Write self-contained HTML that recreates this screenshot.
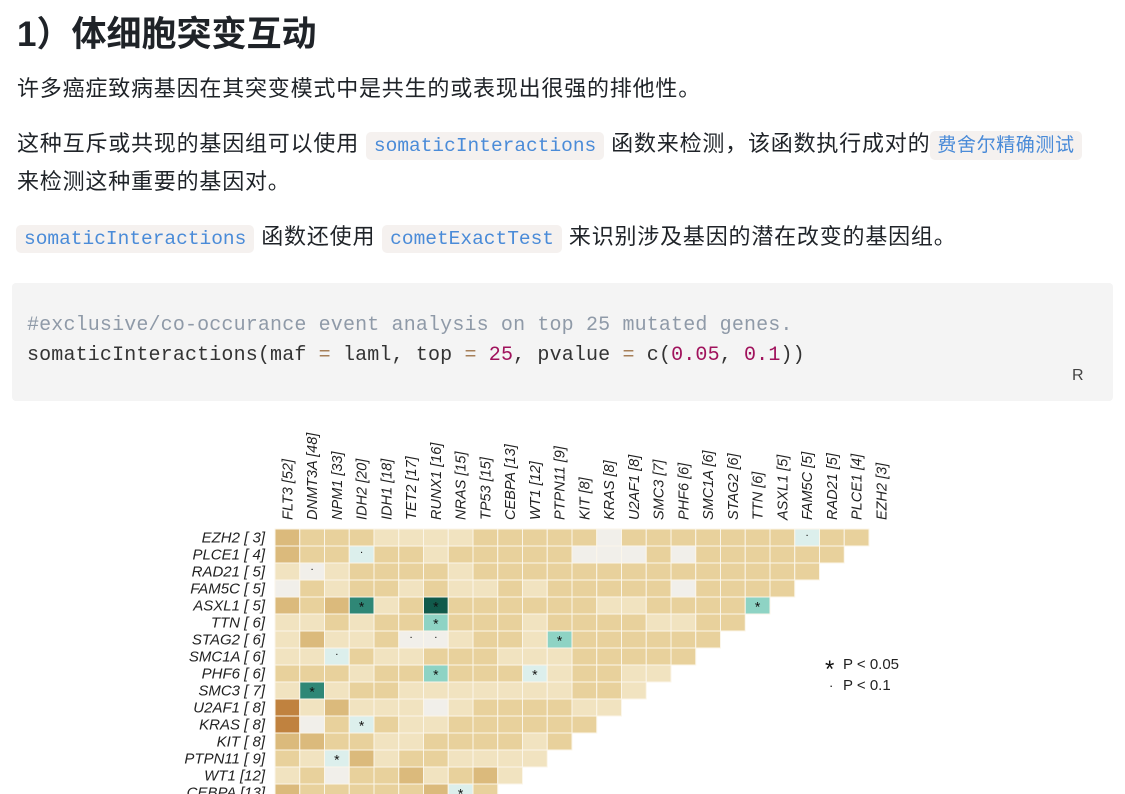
<!DOCTYPE html>
<html><head><meta charset="utf-8">
<style>
body{margin:0;width:1125px;height:794px;overflow:hidden;background:#fff;font-family:"Liberation Sans","Noto Sans CJK SC",sans-serif;color:#1f2328;position:relative}
.abs{position:absolute;white-space:nowrap}
h1{position:absolute;left:17px;top:6px;margin:0;font-size:35px;font-weight:bold;color:#1f2328}
.p{font-size:22px;letter-spacing:0.8px;color:#1f2328;line-height:30px}
code{font-family:"Liberation Mono",monospace;font-size:19.5px;letter-spacing:0;color:#4a8bd8;background:#f5f1ef;border-radius:5px;padding:3px 8px}
.lk{font-size:19px;letter-spacing:0.6px;color:#4a8bd8;background:#f5f1ef;border-radius:5px;padding:4px 7px}
#codeblk{position:absolute;left:12px;top:283px;width:1101px;height:118px;background:#f4f4f4;border-radius:4px}
.cl{font-family:"Liberation Mono",monospace;font-size:20px;letter-spacing:0.15px}
</style></head><body>
<h1>1）体细胞突变互动</h1>
<div class="abs p" style="left:17px;top:74px">许多癌症致病基因在其突变模式中是共生的或表现出很强的排他性。</div>
<div class="abs p" style="left:17px;top:129px">这种互斥或共现的基因组可以使用 <code>somaticInteractions</code> 函数来检测，该函数执行成对的<span class="lk">费舍尔精确测试</span></div>
<div class="abs p" style="left:17px;top:167px">来检测这种重要的基因对。</div>
<div class="abs p" style="left:17px;top:222px"><code style="margin-left:-1px">somaticInteractions</code> 函数还使用 <code>cometExactTest</code> 来识别涉及基因的潜在改变的基因组。</div>
<div id="codeblk">
<div class="abs cl" style="left:15px;top:31px;color:#8f9aa8">#exclusive/co-occurance event analysis on top 25 mutated genes.</div>
<div class="abs cl" style="left:15px;top:61px;color:#333">somaticInteractions(maf <span style="color:#a67f59">=</span> laml, top <span style="color:#a67f59">=</span> <span style="color:#a0125c">25</span>, pvalue <span style="color:#a67f59">=</span> c(<span style="color:#a0125c">0.05</span>, <span style="color:#a0125c">0.1</span>))</div>
<div class="abs" style="left:1060px;top:84px;font-size:16px;color:#444">R</div>
</div>
<svg id="chart" class="abs" style="left:0;top:0" width="1125" height="794"></svg>
<script>
const colGenes=["FLT3 [52]","DNMT3A [48]","NPM1 [33]","IDH2 [20]","IDH1 [18]","TET2 [17]","RUNX1 [16]","NRAS [15]","TP53 [15]","CEBPA [13]","WT1 [12]","PTPN11 [9]","KIT [8]","KRAS [8]","U2AF1 [8]","SMC3 [7]","PHF6 [6]","SMC1A [6]","STAG2 [6]","TTN [6]","ASXL1 [5]","FAM5C [5]","RAD21 [5]","PLCE1 [4]","EZH2 [3]"];
const rowGenes=["EZH2 [ 3]","PLCE1 [ 4]","RAD21 [ 5]","FAM5C [ 5]","ASXL1 [ 5]","TTN [ 6]","STAG2 [ 6]","SMC1A [ 6]","PHF6 [ 6]","SMC3 [ 7]","U2AF1 [ 8]","KRAS [ 8]","KIT [ 8]","PTPN11 [ 9]","WT1 [12]","CEBPA [13]"];
// levels: positive = exclusive (tan shades), negative = co-occurrence (teal shades)
const levels=[
[3,2,2,2,1,1,1,1,2,2,2,2,2,0,2,2,2,2,2,2,2,-1,2,2],
[3,2,2,-1,2,2,1,2,2,2,2,2,0,0,0,2,0,2,2,2,2,2,2],
[1,0,1,2,2,2,2,1,2,2,2,2,2,2,2,2,2,2,2,2,2,2],
[0,2,1,2,2,1,2,1,1,2,1,2,2,2,2,2,0,2,2,2,2],
[3,2,3,-3,1,2,-4,2,2,2,2,2,2,1,1,2,2,2,2,-2],
[1,1,2,1,2,2,-2,2,2,2,1,2,2,2,2,1,1,2,2],
[1,3,1,1,2,0,0,1,2,2,1,-2,2,2,2,2,2,2],
[1,1,-1,2,1,1,2,2,2,1,1,1,2,2,2,2,2],
[2,2,2,1,2,2,-2,2,2,2,-1,1,2,2,1,1],
[1,-3,1,2,2,1,1,1,1,1,1,1,2,2,1],
[4,1,3,1,1,1,0,1,2,2,2,2,1,1],
[4,0,2,-1,2,1,1,2,2,2,2,2,2],
[3,3,2,2,1,1,2,2,2,2,1,2],
[2,1,-1,3,1,2,2,1,1,1,1],
[1,2,0,2,2,3,1,2,3,1],
[3,2,2,2,2,2,3,-1,2]];
const marks=[
{r:0,c:21,m:"."},{r:1,c:3,m:"."},{r:2,c:1,m:"."},{r:4,c:3,m:"*"},{r:4,c:6,m:"*"},{r:4,c:19,m:"*"},
{r:5,c:6,m:"*"},{r:6,c:5,m:"."},{r:6,c:6,m:"."},{r:6,c:11,m:"*"},{r:7,c:2,m:"."},{r:8,c:6,m:"*"},
{r:8,c:10,m:"*"},{r:9,c:1,m:"*"},{r:11,c:3,m:"*"},{r:13,c:2,m:"*"},{r:15,c:7,m:"*"}];
const palette={"4":"#c0823f","3":"#dbba7c","2":"#e8d19c","1":"#f1e3c0","0":"#f1efea","-1":"#dcefec","-2":"#8ed3c4","-3":"#2f8776","-4":"#115a4b"};
const X0=275,Y0=529,CW=24.75,RH=17;
const xs=c=>X0+c*CW, ys=r=>Y0+r*RH;
const svg=document.getElementById('chart'),NS="http://www.w3.org/2000/svg";
function mk(t,a){const e=document.createElementNS(NS,t);for(const k in a)e.setAttribute(k,a[k]);svg.appendChild(e);return e;}
levels.forEach((row,r)=>row.forEach((v,c)=>{
 const e=mk('rect',{x:xs(c),y:ys(r),width:CW,height:RH,fill:palette[v],stroke:"#fbf6ea","stroke-width":1});
 
 
}));
marks.forEach(o=>{
 const t=mk('text',{x:xs(o.c)+CW/2,y:ys(o.r)+RH/2+(o.m=="*"?6:1),"text-anchor":"middle","font-size":o.m=="*"?14:11,"font-family":"Liberation Sans, sans-serif",fill:"#111"});
 t.textContent=o.m=="*"?"*":"·";
 
 
});
rowGenes.forEach((g,r)=>{
 const t=mk('text',{x:265,y:ys(r)+RH/2+5,"text-anchor":"end","font-size":15,"font-style":"italic","font-family":"Liberation Sans, sans-serif",fill:"#222"});
 t.textContent=g;
 
 
});
colGenes.forEach((g,c)=>{
 const cx=xs(c)+CW/2+5,cy=520;
 const t=mk('text',{x:cx,y:cy,transform:`rotate(-90 ${cx} ${cy})`,"font-size":14.5,"font-style":"italic","font-family":"Liberation Sans, sans-serif",fill:"#222"});
 t.textContent=g;
 
 
});
const l1=mk('text',{x:825,y:677,"font-size":24,"font-family":"Liberation Sans, sans-serif",fill:"#111"});l1.textContent="*";


const l2=mk('text',{x:843,y:669,"font-size":15,"font-family":"Liberation Sans, sans-serif",fill:"#222"});l2.textContent="P < 0.05";


const l3=mk('text',{x:829,y:690,"font-size":13,"font-family":"Liberation Sans, sans-serif",fill:"#111"});l3.textContent="·";


const l4=mk('text',{x:843,y:690,"font-size":15,"font-family":"Liberation Sans, sans-serif",fill:"#222"});l4.textContent="P < 0.1";


</script>
</body></html>
